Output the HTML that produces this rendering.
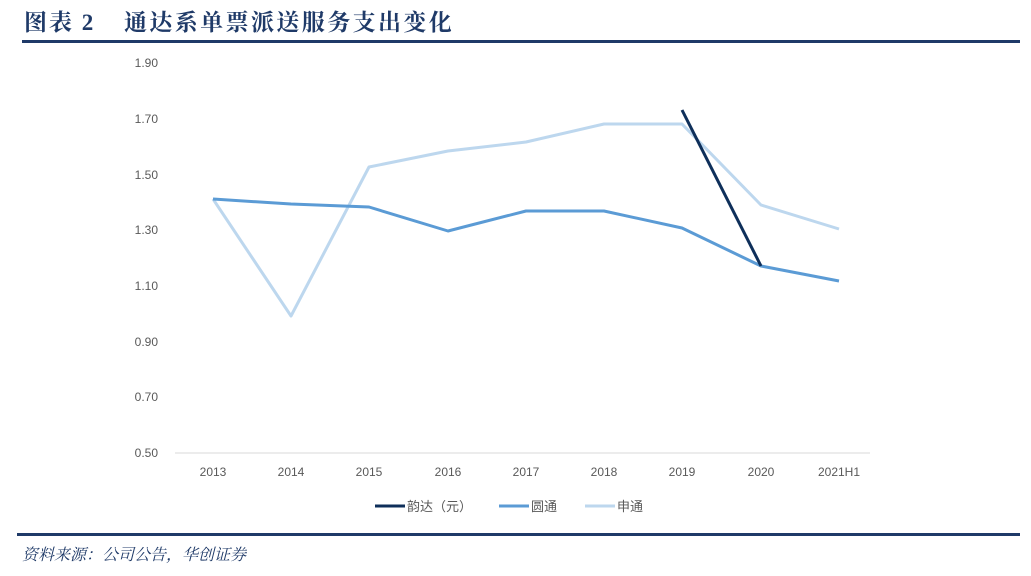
<!DOCTYPE html>
<html><head><meta charset="utf-8"><style>
body{margin:0;background:#fff;width:1031px;height:576px;overflow:hidden}
svg{display:block}
</style></head><body>
<svg width="1031" height="576" xmlns="http://www.w3.org/2000/svg">
<text x="24" y="30" font-family="'Liberation Serif','Noto Serif CJK SC',serif" font-weight="bold" font-size="23" fill="#1f3a68" letter-spacing="2">图表 2</text>
<text x="124" y="30" font-family="'Liberation Serif','Noto Serif CJK SC',serif" font-weight="bold" font-size="23" fill="#1f3a68" letter-spacing="2.4">通达系单票派送服务支出变化</text>
<rect x="22" y="40" width="998" height="3" fill="#1f3a68"/>
<g font-family="'Liberation Sans',sans-serif" font-size="12" fill="#595959" text-anchor="end">
<text x="158" y="67">1.90</text><text x="158" y="123">1.70</text><text x="158" y="179">1.50</text><text x="158" y="234">1.30</text><text x="158" y="290">1.10</text><text x="158" y="346">0.90</text><text x="158" y="401">0.70</text><text x="158" y="457">0.50</text>
</g>
<line x1="175" y1="453" x2="870" y2="453" stroke="#d9d9d9" stroke-width="1"/>
<g font-family="'Liberation Sans',sans-serif" font-size="12" fill="#595959" text-anchor="middle">
<text x="213" y="476">2013</text><text x="291" y="476">2014</text><text x="369" y="476">2015</text><text x="448" y="476">2016</text><text x="526" y="476">2017</text><text x="604" y="476">2018</text><text x="682" y="476">2019</text><text x="761" y="476">2020</text><text x="839" y="476">2021H1</text>
</g>
<polyline fill="none" stroke="#bdd7ee" stroke-width="3" stroke-linejoin="round" points="213,199 291,316 369,167 448,151 526,142 604,124 682,124 761,205 839,229"/>
<polyline fill="none" stroke="#5b9bd5" stroke-width="3" stroke-linejoin="round" points="213,199 291,204 369,207 448,231 526,211 604,211 682,228 761,266 839,281"/>
<polyline fill="none" stroke="#0e2f5a" stroke-width="3" points="682,110 761,266"/>
<g font-family="'Liberation Sans','Noto Sans CJK SC',sans-serif" font-size="13" fill="#595959">
<line x1="375" y1="506" x2="405" y2="506" stroke="#0e2f5a" stroke-width="3"/><text x="407" y="511">韵达（元）</text>
<line x1="499" y1="506" x2="529" y2="506" stroke="#5b9bd5" stroke-width="3"/><text x="531" y="511">圆通</text>
<line x1="585" y1="506" x2="615" y2="506" stroke="#bdd7ee" stroke-width="3"/><text x="617" y="511">申通</text>
</g>
<rect x="17" y="533" width="1003" height="3" fill="#1f3a68"/>
<text x="22" y="560" font-family="'Liberation Serif','Noto Serif CJK SC',serif" font-style="italic" font-size="16" fill="#1f3a68">资料来源：公司公告，华创证券</text>
</svg>
</body></html>
